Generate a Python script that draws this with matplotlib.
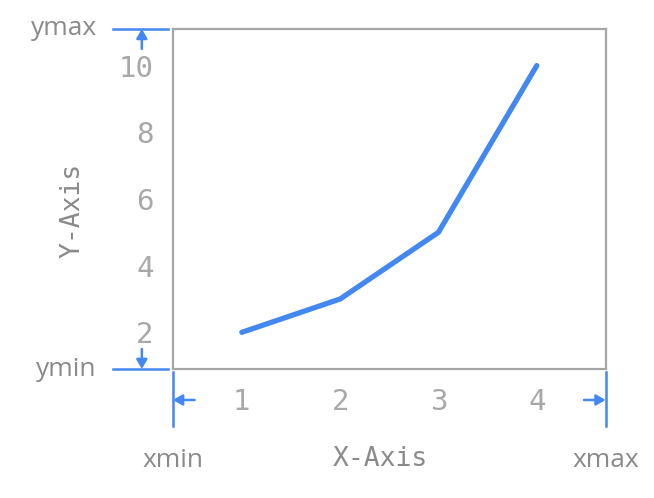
import matplotlib.pyplot as plt

x = [1, 2, 3, 4]
y = [2, 3, 5, 10]
xticks = [1, 2, 3, 4]
yticks = [2, 4, 6, 8, 10]
XMIN, XMAX = 0.3, 4.7
YMIN, YMAX = 0.9, 11.1

BLUE = "#4288f0"
GREY = "#a6a6a6"
TXT = "#8a8a8a"

fig = plt.figure(figsize=(6.54, 4.98), dpi=100)
ax = fig.add_axes([0.2645, 0.259, 0.6615, 0.683])
ax.plot(x, y, color=BLUE, linewidth=3.8, solid_capstyle="round")
ax.set_xlim(XMIN, XMAX)
ax.set_ylim(YMIN, YMAX)
ax.set_xticks(xticks)
ax.set_yticks(yticks)
for s in ax.spines.values():
    s.set_color(GREY)
    s.set_linewidth(1.6)
ax.tick_params(length=0, labelsize=21, labelcolor="#a8a8a8", pad=14)
for lab in ax.get_xticklabels() + ax.get_yticklabels():
    lab.set_family("DejaVu Sans Mono")

ax.set_xlabel("X-Axis", family="DejaVu Sans Mono", fontsize=19, color=TXT)
ax.set_ylabel("Y-Axis", family="DejaVu Sans Mono", fontsize=19, color=TXT)
ax.xaxis.set_label_coords(0.479, -0.225)
ax.yaxis.set_label_coords(-0.203, 0.465)

# limit markers
ty = ax.get_yaxis_transform()  # x axes-frac, y data
tx = ax.get_xaxis_transform()  # x data, y axes-frac
aprops = dict(arrowstyle="-|>,head_length=0.55,head_width=0.32", color=BLUE, lw=1.8,
              shrinkA=0, shrinkB=0)
for yv, name, dy in [(YMAX, "ymax", -0.6), (YMIN, "ymin", 0.6)]:
    ax.plot([-0.139, -0.012], [yv, yv], color=BLUE, lw=1.8, transform=ty, clip_on=False)
    ax.annotate("", xy=(-0.072, yv), xytext=(-0.072, yv + dy), xycoords=ty,
                textcoords=ty, arrowprops=aprops, annotation_clip=False)
    ax.text(-0.176, yv, name, transform=ty, ha="right", va="center",
            family="Open Sans", fontsize=19, color=TXT)
for xv, name, dx in [(XMIN, "xmin", 0.22), (XMAX, "xmax", -0.22)]:
    ax.plot([xv, xv], [-0.009, -0.168], color=BLUE, lw=1.8, transform=tx, clip_on=False)
    ax.annotate("", xy=(xv, -0.091), xytext=(xv + dx, -0.091), xycoords=tx,
                textcoords=tx, arrowprops=aprops, annotation_clip=False)
    ax.text(xv, -0.268, name, transform=tx, ha="center", va="center",
            family="Open Sans", fontsize=19, color=TXT)

plt.savefig("out.png", dpi=100)
